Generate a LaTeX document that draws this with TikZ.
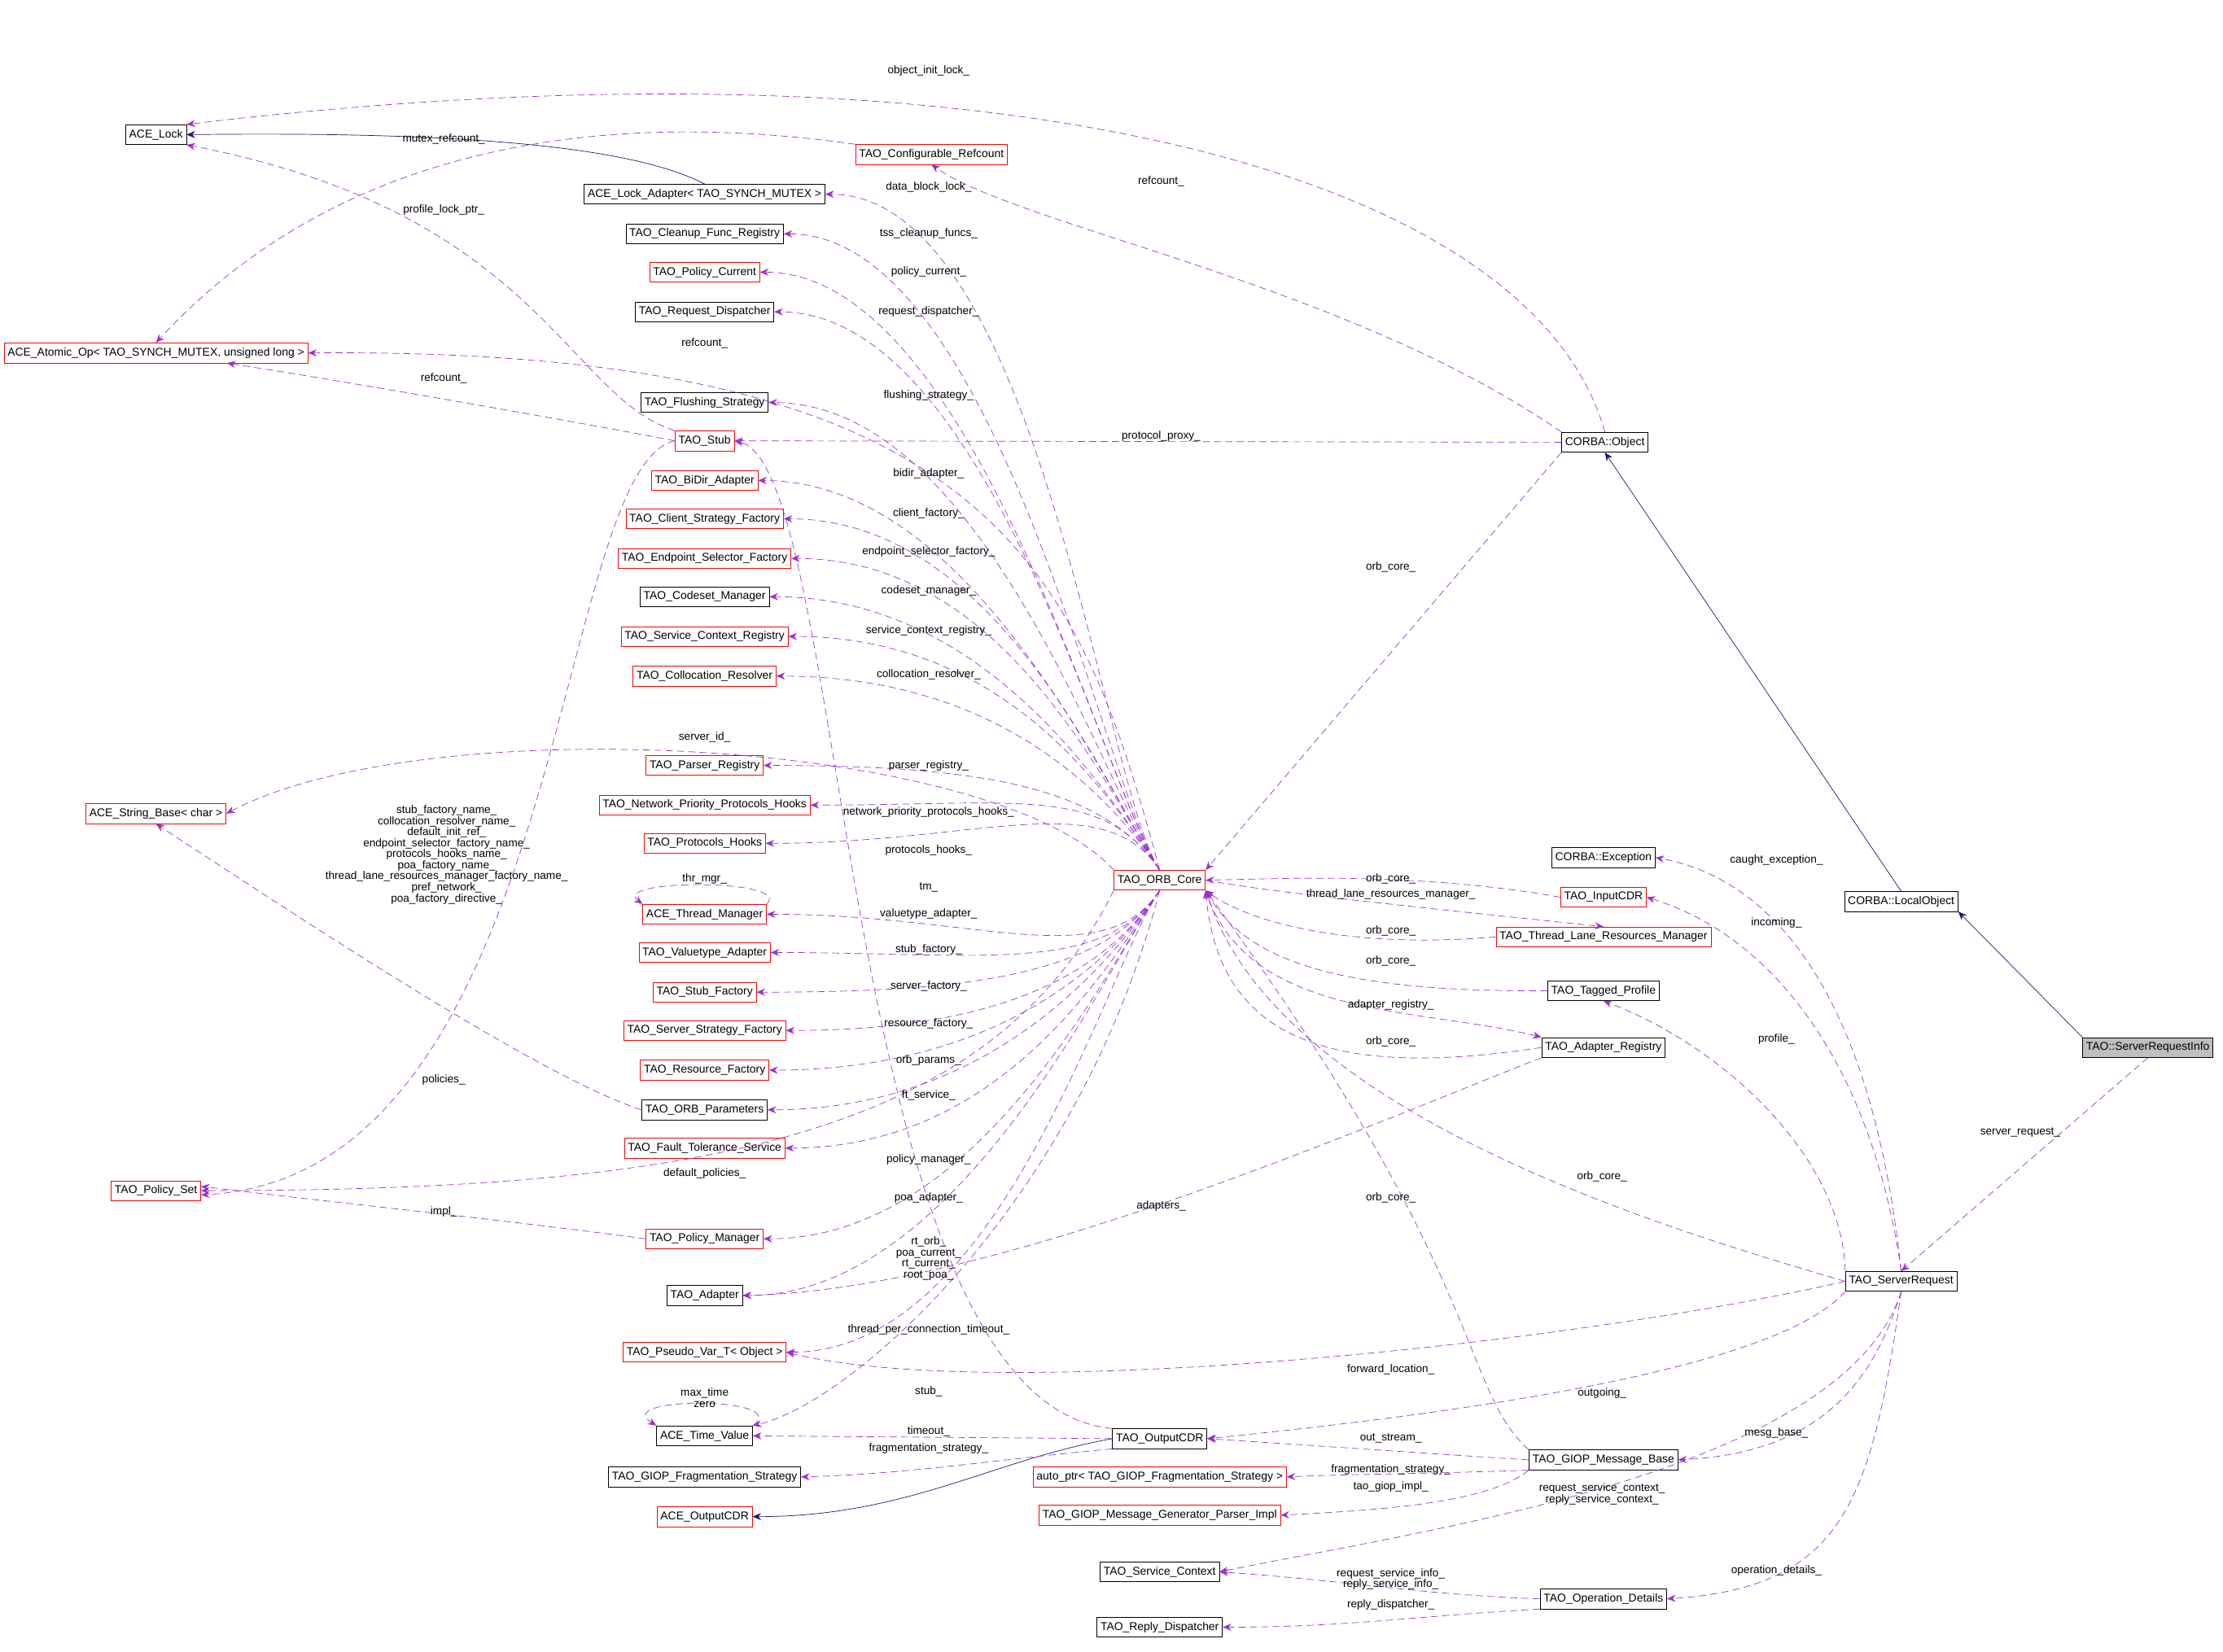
\documentclass[tikz,border=0pt]{standalone}
\usepackage{fontspec}
\setmainfont{Liberation Sans}
\usetikzlibrary{arrows.meta,calc}
\definecolor{dep}{HTML}{9A32CD}
\definecolor{inh}{HTML}{191970}
\begin{document}
\begin{tikzpicture}[x=1pt,y=-1pt,
  box/.style={draw=black,fill=white,font=\fontsize{8}{9}\selectfont,inner sep=2.5pt,minimum height=14pt},
  rbox/.style={box,draw=red},
  gbox/.style={box,fill=black!25},
  dep/.style={draw=dep,dashed,dash pattern=on 5pt off 3pt,-{Stealth[length=6pt,width=5pt,fill=dep]}},
  inh/.style={draw=inh,-{Stealth[length=6pt,width=5pt,fill=inh]}},
  lab/.style={font=\fontsize{7.8}{7.8}\selectfont,inner sep=0pt,align=center}]
\useasboundingbox (0,0) rectangle (1568,1165);
% nodes
\node[box] (lock) at (110,95) {ACE\_Lock};
\node[rbox] (cref) at (657,109) {TAO\_Configurable\_Refcount};
\node[box] (ladp) at (497,137) {ACE\_Lock\_Adapter< TAO\_SYNCH\_MUTEX >};
\node[box] (clean) at (497,165) {TAO\_Cleanup\_Func\_Registry};
\node[rbox] (pcur) at (497,192) {TAO\_Policy\_Current};
\node[box] (rdisp) at (497,220) {TAO\_Request\_Dispatcher};
\node[rbox] (atom) at (110,249) {ACE\_Atomic\_Op< TAO\_SYNCH\_MUTEX, unsigned long >};
\node[box] (flush) at (497,284) {TAO\_Flushing\_Strategy};
\node[rbox] (stub) at (497,311) {TAO\_Stub};
\node[box] (obj) at (1132,312) {CORBA::Object};
\node[rbox] (bidir) at (497,339) {TAO\_BiDir\_Adapter};
\node[rbox] (csf) at (497,366) {TAO\_Client\_Strategy\_Factory};
\node[rbox] (esf) at (497,394) {TAO\_Endpoint\_Selector\_Factory};
\node[box] (cset) at (497,421) {TAO\_Codeset\_Manager};
\node[rbox] (scr) at (497,449) {TAO\_Service\_Context\_Registry};
\node[rbox] (colr) at (497,477) {TAO\_Collocation\_Resolver};
\node[rbox] (preg) at (497,540) {TAO\_Parser\_Registry};
\node[rbox] (sbase) at (110,574) {ACE\_String\_Base< char >};
\node[rbox] (npph) at (497,568) {TAO\_Network\_Priority\_Protocols\_Hooks};
\node[rbox] (phk) at (497,595) {TAO\_Protocols\_Hooks};
\node[box] (exc) at (1131,605) {CORBA::Exception};
\node[rbox] (orb) at (818,621) {TAO\_ORB\_Core};
\node[rbox] (tmgr) at (497,645) {ACE\_Thread\_Manager};
\node[rbox] (icdr) at (1131,633) {TAO\_InputCDR};
\node[box] (lobj) at (1341,636) {CORBA::LocalObject};
\node[rbox] (tlrm) at (1131,661) {TAO\_Thread\_Lane\_Resources\_Manager};
\node[rbox] (vta) at (497,672) {TAO\_Valuetype\_Adapter};
\node[rbox] (stf) at (497,700) {TAO\_Stub\_Factory};
\node[box] (tprof) at (1131,699) {TAO\_Tagged\_Profile};
\node[rbox] (ssf) at (497,727) {TAO\_Server\_Strategy\_Factory};
\node[box] (areg) at (1131,739) {TAO\_Adapter\_Registry};
\node[gbox] (sri) at (1515,739) {TAO::ServerRequestInfo};
\node[rbox] (resf) at (497,755) {TAO\_Resource\_Factory};
\node[box] (opar) at (497,783) {TAO\_ORB\_Parameters};
\node[rbox] (fts) at (497,810) {TAO\_Fault\_Tolerance\_Service};
\node[rbox] (pset) at (110,840) {TAO\_Policy\_Set};
\node[rbox] (pmgr) at (497,874) {TAO\_Policy\_Manager};
\node[box] (sreq) at (1341,904) {TAO\_ServerRequest};
\node[box] (adp) at (497,914) {TAO\_Adapter};
\node[rbox] (pvar) at (497,954) {TAO\_Pseudo\_Var\_T< Object >};
\node[box] (tval) at (497,1013) {ACE\_Time\_Value};
\node[box] (ocdr) at (818,1015) {TAO\_OutputCDR};
\node[box] (gmb) at (1131,1030) {TAO\_GIOP\_Message\_Base};
\node[box] (gfs) at (497,1042) {TAO\_GIOP\_Fragmentation\_Strategy};
\node[rbox] (aptr) at (818,1042) {auto\_ptr< TAO\_GIOP\_Fragmentation\_Strategy >};
\node[rbox] (aocdr) at (497,1070) {ACE\_OutputCDR};
\node[rbox] (gen) at (818,1069) {TAO\_GIOP\_Message\_Generator\_Parser\_Impl};
\node[box] (sctx) at (818,1109) {TAO\_Service\_Context};
\node[box] (opd) at (1131,1128) {TAO\_Operation\_Details};
\node[box] (rdsp) at (818,1148) {TAO\_Reply\_Dispatcher};
% inheritance
\draw[inh] (ladp.north) .. controls (440,100) and (300,93) .. (lock.east);
\draw[inh] (lobj.north) -- (obj.south);
\draw[inh] (sri.north west) -- (lobj.south east);
\draw[inh] (ocdr.west) .. controls (700,1030) and (640,1070) .. (aocdr.east);
% dependencies
\draw[dep] (obj.north) .. controls (1080,120) and (700,20) .. (lock.north east);
\draw[dep] (cref.north west) .. controls (450,80) and (250,90) .. (atom.north);
\draw[dep] (obj.north west) .. controls (950,200) and (720,160) .. (cref.south);
\foreach \t in {ladp,clean,pcur,rdisp,flush,bidir,csf,esf,cset,scr,colr,preg,npph,phk}
  \draw[dep] (orb.north) .. controls ($(orb.north)+(-40,-60)$) and ($(\t.east)+(150,0)$) .. (\t.east);
\draw[dep] (orb.north) .. controls (760,400) and (700,245) .. (atom.east);
\draw[dep] (stub.west) .. controls (420,300) and (250,270) .. ([xshift=50]atom.south);
\draw[dep] (stub.north west) .. controls (400,280) and (380,150) .. (lock.south east);
\draw[dep] (obj.west) -- (stub.east);
\draw[dep] (orb.north west) .. controls (700,520) and (300,500) .. (sbase.east);
\foreach \t in {tmgr,vta,stf,ssf,resf,opar,fts,pmgr,adp,pvar}
  \draw[dep] (orb.south) .. controls ($(orb.south)+(-40,60)$) and ($(\t.east)+(150,0)$) .. (\t.east);
\draw[dep] (tmgr.north east) .. controls (560,620) and (430,620) .. (tmgr.north west);
\draw[dep] (orb.south west) .. controls (700,800) and (500,840) .. (pset.east);
\draw[dep] (stub.west) .. controls (390,330) and (400,830) .. ([yshift=-3]pset.east);
\draw[dep] (pmgr.west) .. controls (350,860) and (250,850) .. ([yshift=3]pset.east);
\draw[dep] (orb.south) .. controls (760,850) and (600,990) .. (tval.north east);
\draw[dep] (tval.north east) .. controls (560,985) and (430,985) .. (tval.north west);
\draw[dep] (opar.west) .. controls (380,760) and (200,640) .. (sbase.south);
\draw[dep] (obj.south west) -- (orb.north east);
\draw[dep] (icdr.west) .. controls (1000,615) and (900,620) .. (orb.east);
\draw[dep] (orb.east) .. controls (900,630) and (1000,640) .. (tlrm.north);
\draw[dep] (tlrm.west) .. controls (950,670) and (880,650) .. (orb.south east);
\draw[dep] (tprof.west) .. controls (950,700) and (880,680) .. (orb.south east);
\draw[dep] (orb.south east) .. controls (880,720) and (1000,710) .. (areg.north west);
\draw[dep] (areg.west) .. controls (950,760) and (860,740) .. (orb.south east);
\draw[dep] (areg.south west) .. controls (950,800) and (700,910) .. (adp.east);
\draw[dep] (sreq.west) .. controls (1150,860) and (900,780) .. (orb.south east);
\draw[dep] (gmb.north west) .. controls (1030,980) and (1050,900) .. (orb.south east);
\draw[dep] (sreq.north) .. controls (1320,700) and (1250,620) .. (exc.east);
\draw[dep] (sreq.north) .. controls (1320,750) and (1250,660) .. (icdr.east);
\draw[dep] (sreq.north west) .. controls (1300,820) and (1220,740) .. (tprof.south);
\draw[dep] (sri.south) -- (sreq.north);
\draw[dep] (sreq.west) .. controls (1100,950) and (700,990) .. (pvar.east);
\draw[dep] (sreq.south west) .. controls (1250,970) and (1000,1000) .. (ocdr.east);
\draw[dep] (ocdr.north west) .. controls (590,990) and (600,330) .. (stub.east);
\draw[dep] (ocdr.west) -- (tval.east);
\draw[dep] (ocdr.south west) .. controls (700,1030) and (640,1040) .. (gfs.east);
\draw[dep] (gmb.west) .. controls (1000,1025) and (930,1020) .. (ocdr.east);
\draw[dep] (gmb.south west) .. controls (1000,1040) and (950,1040) .. (aptr.east);
\draw[dep] (gmb.south west) .. controls (1050,1060) and (980,1065) .. (gen.east);
\draw[dep] (sreq.south) .. controls (1320,980) and (1280,1025) .. (gmb.east);
\draw[dep] (sreq.south) .. controls (1300,1040) and (1000,1080) .. (sctx.east);
\draw[dep] (sreq.south) .. controls (1320,1060) and (1300,1120) .. (opd.east);
\draw[dep] (opd.west) .. controls (1000,1125) and (950,1115) .. (sctx.east);
\draw[dep] (opd.south west) .. controls (1000,1140) and (950,1148) .. (rdsp.east);
% labels
\node[lab] (l1) at (655,50) {object\_init\_lock\_};
\node[lab] (l2) at (313,98) {mutex\_refcount\_};
\node[lab] (l3) at (819,128) {refcount\_};
\node[lab] (l4) at (655,132) {data\_block\_lock\_};
\node[lab] (l5) at (313,148) {profile\_lock\_ptr\_};
\node[lab] (l6) at (655,165) {tss\_cleanup\_funcs\_};
\node[lab] (l7) at (655,192) {policy\_current\_};
\node[lab] (l8) at (655,220) {request\_dispatcher\_};
\node[lab] (l9) at (497,242) {refcount\_};
\node[lab] (l10) at (313,267) {refcount\_};
\node[lab] (l11) at (655,279) {flushing\_strategy\_};
\node[lab] (l12) at (819,308) {protocol\_proxy\_};
\node[lab] (l13) at (655,334) {bidir\_adapter\_};
\node[lab] (l14) at (655,362) {client\_factory\_};
\node[lab] (l15) at (655,389) {endpoint\_selector\_factory\_};
\node[lab] (l16) at (655,417) {codeset\_manager\_};
\node[lab] (l17) at (655,445) {service\_context\_registry\_};
\node[lab] (l18) at (655,476) {collocation\_resolver\_};
\node[lab] (l19) at (981,400) {orb\_core\_};
\node[lab] (l20) at (497,520) {server\_id\_};
\node[lab] (l21) at (655,540) {parser\_registry\_};
\node[lab] (l22) at (655,573) {network\_priority\_protocols\_hooks\_};
\node[lab] (l23) at (655,600) {protocols\_hooks\_};
\node[lab] (l24) at (315,603) {stub\_factory\_name\_\\collocation\_resolver\_name\_\\default\_init\_ref\_\\endpoint\_selector\_factory\_name\_\\protocols\_hooks\_name\_\\poa\_factory\_name\_\\thread\_lane\_resources\_manager\_factory\_name\_\\pref\_network\_\\poa\_factory\_directive\_};
\node[lab] (l25) at (497,620) {thr\_mgr\_};
\node[lab] (l26) at (655,626) {tm\_};
\node[lab] (l27) at (655,645) {valuetype\_adapter\_};
\node[lab] (l28) at (655,670) {stub\_factory\_};
\node[lab] (l29) at (655,696) {server\_factory\_};
\node[lab] (l30) at (655,722) {resource\_factory\_};
\node[lab] (l31) at (655,748) {orb\_params\_};
\node[lab] (l32) at (655,773) {ft\_service\_};
\node[lab] (l33) at (313,762) {policies\_};
\node[lab] (l34) at (497,828) {default\_policies\_};
\node[lab] (l35) at (655,818) {policy\_manager\_};
\node[lab] (l36) at (313,855) {impl\_};
\node[lab] (l37) at (655,845) {poa\_adapter\_};
\node[lab] (l38) at (655,888) {rt\_orb\_\\poa\_current\_\\rt\_current\_\\root\_poa\_};
\node[lab] (l39) at (655,938) {thread\_per\_connection\_timeout\_};
\node[lab] (l40) at (497,986) {max\_time\\zero};
\node[lab] (l41) at (655,982) {stub\_};
\node[lab] (l42) at (655,1010) {timeout\_};
\node[lab] (l43) at (655,1022) {fragmentation\_strategy\_};
\node[lab] (l44) at (981,620) {orb\_core\_};
\node[lab] (l45) at (981,631) {thread\_lane\_resources\_manager\_};
\node[lab] (l46) at (981,657) {orb\_core\_};
\node[lab] (l47) at (981,678) {orb\_core\_};
\node[lab] (l48) at (981,709) {adapter\_registry\_};
\node[lab] (l49) at (981,735) {orb\_core\_};
\node[lab] (l50) at (1253,607) {caught\_exception\_};
\node[lab] (l51) at (1253,651) {incoming\_};
\node[lab] (l52) at (1253,733) {profile\_};
\node[lab] (l53) at (1425,799) {server\_request\_};
\node[lab] (l54) at (1130,830) {orb\_core\_};
\node[lab] (l55) at (981,845) {orb\_core\_};
\node[lab] (l56) at (819,851) {adapters\_};
\node[lab] (l57) at (981,966) {forward\_location\_};
\node[lab] (l58) at (1130,983) {outgoing\_};
\node[lab] (l59) at (981,1015) {out\_stream\_};
\node[lab] (l60) at (1253,1011) {mesg\_base\_};
\node[lab] (l61) at (981,1037) {fragmentation\_strategy\_};
\node[lab] (l62) at (981,1049) {tao\_giop\_impl\_};
\node[lab] (l63) at (1130,1054) {request\_service\_context\_\\reply\_service\_context\_};
\node[lab] (l64) at (1253,1108) {operation\_details\_};
\node[lab] (l65) at (981,1114) {request\_service\_info\_\\reply\_service\_info\_};
\node[lab] (l66) at (981,1132) {reply\_dispatcher\_};
\end{tikzpicture}
\end{document}
